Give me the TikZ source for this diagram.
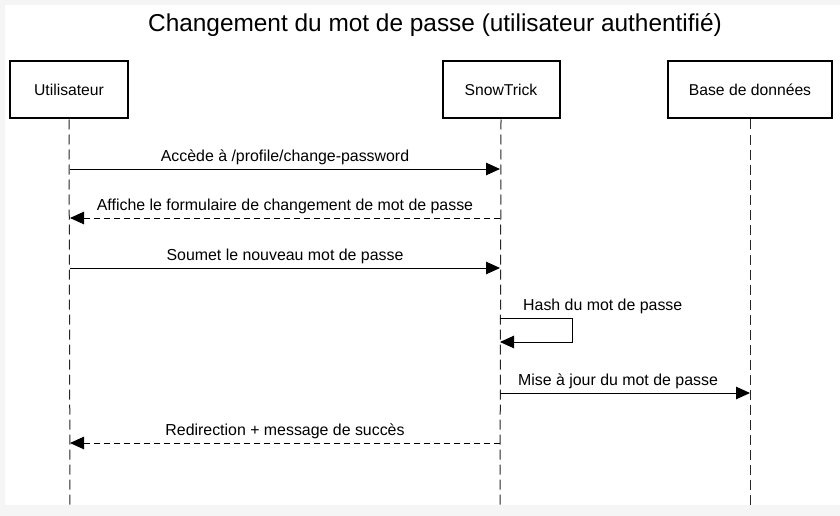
\documentclass[tikz,border=0pt]{standalone}
\usepackage{fontspec}
\setmainfont{Liberation Sans}
\usetikzlibrary{calc, arrows.meta}

\begin{document}
\begin{tikzpicture}[x = 1pt, y = -1pt]
            \tikzset{
                actor/.style = {draw = black, line width = 2pt, minimum height = 57pt, font = \fontsize{15.7}{18}\selectfont},
                msg/.style = {black, line width = 1pt, -{Triangle[length = 14pt, width = 12.5pt]}},
                reply/.style = {msg, dash pattern = on 6pt off 4pt},
                msglabel/.style = {anchor = base, inner sep = 0pt, font = \fontsize{15.9}{18}\selectfont}
            }
            \fill[black!4](0, 0) rectangle (840, 516);
            \fill[white](5, 5) rectangle (840, 505);
            \useasboundingbox (0, 0) rectangle (840, 516);
            
            \node[align = center, anchor = base, font = \fontsize{24.4}{28}\selectfont] (title) at (435, 32) {Changement du mot de passe (utilisateur authentifié)};
            
            \node[actor, minimum width = 118pt] (user) at (69, 90) {Utilisateur};
            \node[actor, minimum width = 117pt] (app) at (501, 90) {SnowTrick};
            \node[actor, minimum width = 164pt] (db) at (750, 90) {Base de données};
            
            % lignes de vie
            \foreach \a/\x in {user/70, app/500, db/750} {
                \coordinate (\a_end) at (\x, 505);
                \draw[black!85, line width = 1pt, dash pattern = on 10pt off 5pt](\a.south) -- (\a_end);
            }
            
            \coordinate (user_1) at (70, 169);
            \coordinate (app_1) at (500, 169);
            \coordinate (user_2) at (70, 218);
            \coordinate (app_2) at (500, 218);
            \coordinate (user_3) at (70, 268);
            \coordinate (app_3) at (500, 268);
            \coordinate (app_4a) at (500, 318);
            \coordinate (loop_4) at (572, 318);
            \coordinate (app_4b) at (500, 342);
            \coordinate (app_5) at (500, 393);
            \coordinate (db_5) at (750, 393);
            \coordinate (user_6) at (70, 443);
            \coordinate (app_6) at (500, 443);
            
            \draw[msg](user_1) -- (app_1);
            \node[msglabel] (lbl_1) at ($(user_1)!0.5!(app_1) + (0, -8)$) {Accède à /profile/change-password};
            
            \draw[reply](app_2) -- (user_2);
            \node[msglabel] (lbl_2) at ($(user_2)!0.5!(app_2) + (0, -8)$) {Affiche le formulaire de changement de mot de passe};
            
            \draw[msg](user_3) -- (app_3);
            \node[msglabel] (lbl_3) at ($(user_3)!0.5!(app_3) + (0, -8)$) {Soumet le nouveau mot de passe};
            
            \draw[msg](app_4a) -- (loop_4) |- (app_4b);
            \node[msglabel, anchor = base west] (lbl_4) at ($(app_4a) + (23, -8)$) {Hash du mot de passe};
            
            \draw[msg](app_5) -- (db_5);
            \node[msglabel] (lbl_5) at ($(app_5)!0.5!(db_5) + (-7, -8)$) {Mise à jour du mot de passe};
            
            \draw[reply](app_6) -- (user_6);
            \node[msglabel] (lbl_6) at ($(user_6)!0.5!(app_6) + (0, -8)$) {Redirection + message de succès};
        \end{tikzpicture}
\end{document}
